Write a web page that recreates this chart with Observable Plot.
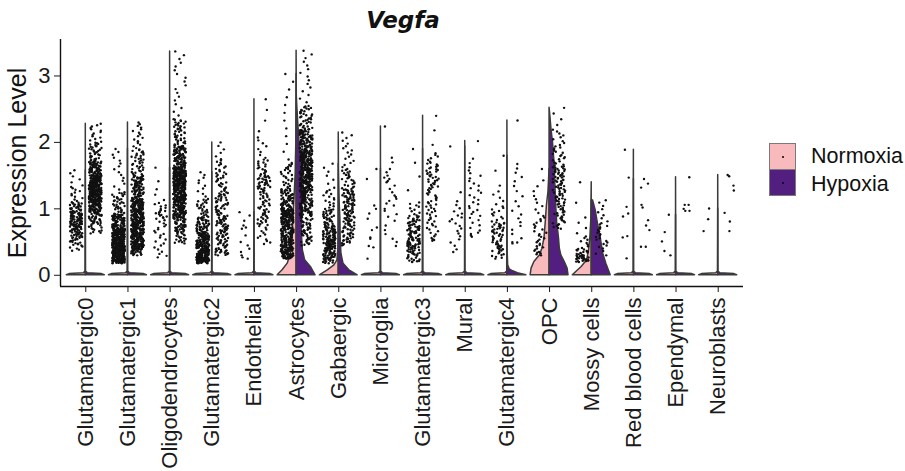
<!DOCTYPE html>
<html><head><meta charset="utf-8">
<script src="https://cdn.jsdelivr.net/npm/d3@7"></script>
<script src="https://cdn.jsdelivr.net/npm/@observablehq/plot@0.6"></script>
<style>
body{margin:0;background:#fff;}
#wrap{position:relative;width:905px;height:471px;overflow:hidden;font-family:"Liberation Sans",Arial,sans-serif;color:#111;}
#title{position:absolute;left:403px;top:9px;transform:translateX(-50%);font:bold italic 23px/23px "DejaVu Sans",sans-serif;white-space:nowrap;}
#ylab{position:absolute;left:17.3px;top:162.5px;transform:translate(-50%,-50%) rotate(-90deg);font-size:25px;line-height:25px;white-space:nowrap;}
#chart{position:absolute;left:0;top:36px;}
.key{position:absolute;left:769px;width:25px;height:25px;border:1px solid #7a7a7a;}
.key i{position:absolute;left:12px;top:12px;width:2px;height:2px;border-radius:1px;background:#000;}
.ltxt{position:absolute;left:811px;font-size:21.5px;line-height:21px;white-space:nowrap;}
</style></head><body>
<div id="wrap">
  <div id="title">Vegfa</div>
  <div id="ylab">Expression Level</div>
  <div id="chart"></div>
  <div class="key" id="k1" style="top:143px"><i></i></div>
  <div class="key" id="k2" style="top:169px"><i></i></div>
  <div class="ltxt" style="top:146px">Normoxia</div>
  <div class="ltxt" style="top:174px">Hypoxia</div>
</div>
<script>
const categories = ["Glutamatergic0","Glutamatergic1","Oligodendrocytes","Glutamatergic2","Endothelial","Astrocytes","Gabaergic","Microglia","Glutamatergic3","Mural","Glutamatergic4","OPC","Mossy cells","Red blood cells","Ependymal","Neuroblasts"];
const conditions = ["Normoxia","Hypoxia"];
const conditionColors = ["#F9BABE","#521E80"];
const yTicks = [0,1,2,3];

// quantile levels at these probabilities (dense groups); sparse groups list every point
const quantileProbs = [0, 0.03, 0.1, 0.25, 0.5, 0.75, 0.9, 0.97, 1];

const countN = [170,500,45,330,14,380,210,13,130,22,75,40,55,8,5,3];
const levelsN = [
  [0.37,0.45,0.55,0.68,0.82,0.95,1.1,1.35,1.58],
  [0.18,0.21,0.25,0.35,0.5,0.7,0.92,1.25,1.9],
  [0.27,0.3,0.4,0.6,0.85,0.98,1.1,1.35,1.62],
  [0.18,0.2,0.23,0.3,0.45,0.65,0.88,1.15,1.55],
  [0.25,0.27,0.3,0.35,0.4,0.45,0.5,0.6,0.7,0.72,0.75,0.82,0.9,0.95],
  [0.25,0.28,0.35,0.5,0.8,1.0,1.3,1.7,3.03],
  [0.18,0.22,0.28,0.4,0.55,0.75,1.0,1.3,1.68],
  [0.25,0.42,0.44,0.55,0.57,0.68,0.72,0.85,0.93,1.0,1.05,1.45,1.6],
  [0.2,0.22,0.3,0.42,0.55,0.75,0.9,1.1,1.9],
  [0.35,0.37,0.45,0.6,0.8,0.95,1.1,1.3,1.94],
  [0.25,0.28,0.35,0.45,0.65,0.8,1.05,1.3,1.8],
  [0.3,0.32,0.35,0.45,0.65,0.9,1.2,1.4,1.6],
  [0.2,0.21,0.22,0.25,0.3,0.4,0.6,0.9,1.4],
  [0.255,0.57,0.59,0.885,0.93,1.03,1.47,1.89],
  [0.3,0.365,0.51,0.65,0.91],
  [0.665,0.845,1.005]
];

const countH = [450,520,600,160,115,500,160,30,85,35,22,125,30,10,6,7];
const levelsH = [
  [0.63,0.78,0.95,1.12,1.3,1.5,1.72,2.0,2.28],
  [0.3,0.38,0.45,0.62,0.85,1.15,1.5,1.9,2.3],
  [0.48,0.65,0.85,1.1,1.38,1.62,1.95,2.35,3.37],
  [0.3,0.33,0.4,0.6,0.9,1.25,1.55,1.75,2.0],
  [0.47,0.55,0.75,0.95,1.3,1.5,1.75,2.1,2.65],
  [0.45,0.6,0.9,1.2,1.55,1.9,2.2,2.55,3.38],
  [0.45,0.5,0.6,0.8,1.05,1.3,1.6,1.95,2.15],
  [0.44,0.5,0.55,0.62,0.68,0.75,0.82,0.88,0.92,0.97,1.0,1.05,1.08,1.12,1.15,1.18,1.2,1.25,1.3,1.35,1.4,1.42,1.45,1.47,1.5,1.55,1.6,1.7,1.77,2.24],
  [0.52,0.55,0.7,0.95,1.3,1.55,1.7,1.85,2.4],
  [0.58,0.6,0.65,0.85,1.1,1.4,1.6,1.75,2.02],
  [0.48,0.49,0.5,0.7,1.0,1.4,1.6,1.7,2.33],
  [0.7,0.75,0.88,1.1,1.4,1.65,1.95,2.2,2.52],
  [0.3,0.32,0.4,0.5,0.65,0.8,1.0,1.1,1.13],
  [0.43,0.43,0.68,0.75,0.83,1.02,1.06,1.32,1.38,1.45],
  [0.97,0.97,1.0,1.06,1.06,1.475],
  [0.665,0.81,0.94,1.275,1.35,1.49,1.51]
];

// violin half profiles: [expression, relative half-width]; null = mostly zeros (spike)
const violinN = [null,null,null,null,null,
  [[0,1],[0.075,0.74],[0.175,0.47],[0.325,0.3],[0.625,0.21],[1.02,0.14],[1.275,0.09],[1.525,0.05],[2.0,0.015],[3.03,0]],
  [[0,1],[0.075,0.58],[0.15,0.23],[0.225,0.07],[0.4,0.02],[0.8,0.005],[1.68,0]],
  null,null,null,null,
  [[0,1],[0.1,0.95],[0.2,0.8],[0.3,0.5],[0.4,0.38],[0.55,0.27],[0.8,0.2],[1.05,0.14],[1.25,0.06],[1.6,0]],
  [[0,1],[0.125,0.53],[0.225,0.24],[0.375,0.14],[0.575,0.07],[0.85,0.02],[1.4,0]],
  null,null,null];
const violinH = [null,null,null,null,null,
  [[0,1],[0.125,0.75],[0.225,0.45],[0.375,0.33],[0.625,0.28],[1.02,0.3],[1.425,0.3],[1.725,0.25],[2.025,0.15],[2.275,0.09],[2.525,0.04],[2.7,0.01],[3.38,0]],
  [[0,1],[0.075,0.56],[0.175,0.25],[0.325,0.14],[0.575,0.1],[0.825,0.09],[1.075,0.05],[1.325,0.03],[1.6,0.01],[2.15,0]],
  null,null,null,
  [[0,1],[0.03,0.55],[0.06,0.3],[0.09,0.12],[0.15,0.04],[0.4,0.01],[2.33,0]],
  [[0,1],[0.1,0.95],[0.2,0.8],[0.3,0.62],[0.4,0.54],[0.55,0.5],[0.8,0.4],[1.05,0.35],[1.4,0.3],[1.7,0.26],[2.0,0.18],[2.2,0.1],[2.4,0.04],[2.52,0]],
  [[0,1],[0.175,0.77],[0.33,0.6],[0.575,0.47],[0.775,0.33],[0.975,0.21],[1.125,0.07],[1.13,0]],
  null,null,null];

const xDomain = [-0.6, 15.6];
const yDomain = [-0.169, 3.549];

// quantile lookup for a probability p
function levelAt(levels, p) {
  let j = 0;
  while (j < quantileProbs.length - 2 && p > quantileProbs[j + 1]) j++;
  const t = (p - quantileProbs[j]) / (quantileProbs[j + 1] - quantileProbs[j]);
  return levels[j] + t * (levels[j + 1] - levels[j]);
}

// deterministic integer hash -> [0,1) used only for the horizontal jitter position
function jitter01(a, b, c) {
  let h = (Math.imul(a + 1, 73856093) ^ Math.imul(b + 7, 19349663) ^ Math.imul(c + 3, 83492791)) | 0;
  h = Math.imul(h ^ (h >>> 16), 0x45d9f3b);
  h = Math.imul(h ^ (h >>> 16), 0x45d9f3b);
  h ^= h >>> 16;
  return (h >>> 0) / 4294967296;
}

const points = [];
const violinRows = [];
categories.forEach((cat, i) => {
  [[0, -1, levelsN[i], countN[i], violinN[i]], [1, 1, levelsH[i], countH[i], violinH[i]]].forEach(([ci, side, lev, n, prof]) => {
    const explicit = n === lev.length;
    for (let k = 0; k < n; k++) {
      const y = explicit ? lev[k] : levelAt(lev, k / (n - 1));
      const u = jitter01(i, ci, k);
      points.push({x: i + side * 0.225 + (u - 0.5) * 0.3, y, cond: conditions[ci]});
    }
    const max = lev[lev.length - 1];
    const profile = prof ?? [[0,1],[0.018,0.85],[0.032,0.1],[0.055,0.01],[max,0]];
    profile.forEach(([v, w]) => violinRows.push({key: cat + ci, cond: conditions[ci], v, x1: i, x2: i + side * w * 0.45}));
  });
});

const chart = Plot.plot({
  width: 760, height: 435,
  marginTop: 3, marginBottom: 185, marginLeft: 60, marginRight: 17,
  style: {fontSize: "22px", fontFamily: "'Liberation Sans', Arial, sans-serif", color: "#1a1a1a", background: "transparent"},
  x: {domain: xDomain},
  y: {domain: yDomain},
  color: {domain: conditions, range: conditionColors},
  marks: [
    Plot.areaX(violinRows, {y: "v", x1: "x1", x2: "x2", z: "key", fill: "cond", stroke: "#3a3a3a", strokeWidth: 1.5, curve: "linear"}),
    Plot.dot(points, {x: "x", y: "y", r: 1.2, fill: "#111", stroke: null}),
    Plot.ruleX([xDomain[0]], {stroke: "#111", strokeWidth: 1.4}),
    Plot.ruleY([yDomain[0]], {stroke: "#111", strokeWidth: 1.4}),
    Plot.axisY({ticks: yTicks, tickSize: 6, tickPadding: 4, label: null, tickFormat: d => String(d)}),
    Plot.axisX({ticks: d3.range(categories.length), tickFormat: i => categories[i], tickRotate: -90, tickSize: 6, tickPadding: 5, label: null})
  ]
});
document.getElementById("chart").appendChild(chart);
document.querySelector("#k1").style.background = conditionColors[0];
document.querySelector("#k2").style.background = conditionColors[1];
</script>
</body></html>
